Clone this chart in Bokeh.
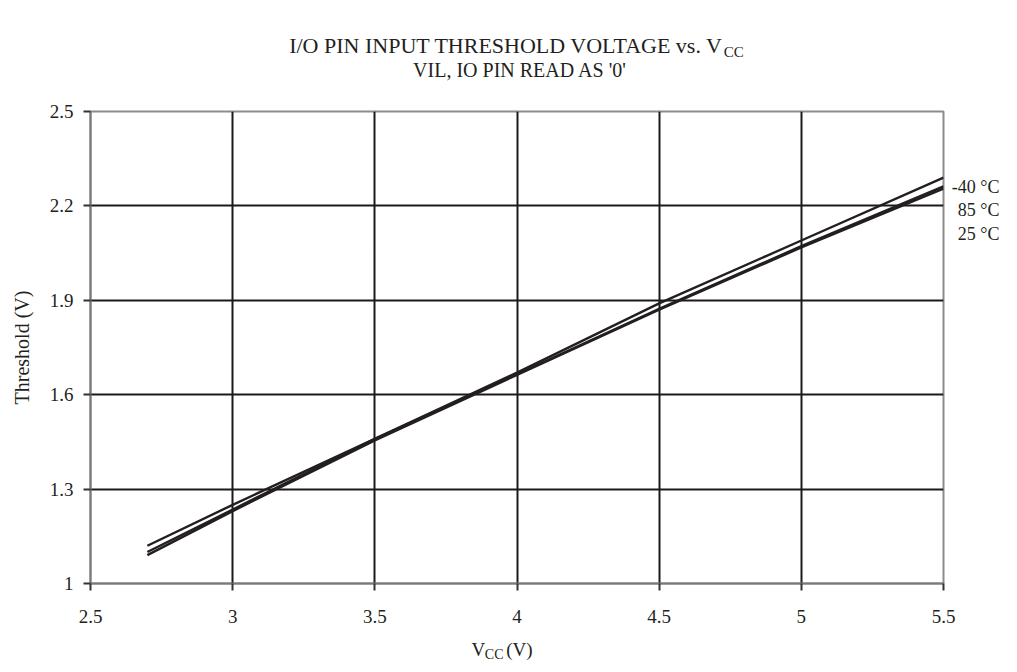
from bokeh.plotting import figure
from bokeh.models import Range1d, FixedTicker, Label
from bokeh.embed import file_html
from bokeh.resources import INLINE

# ---- data ----
vcc = [2.7, 3.0, 3.5, 4.0, 4.5, 5.0, 5.5]
th_m40 = [1.12, 1.25, 1.46, 1.67, 1.89, 2.09, 2.29]
th_85 = [1.10, 1.235, 1.46, 1.665, 1.873, 2.072, 2.262]
th_25 = [1.09, 1.23, 1.455, 1.663, 1.87, 2.068, 2.255]
series_names = ["-40 °C", "85 °C", "25 °C"]
x_ticks = [2.5, 3, 3.5, 4, 4.5, 5, 5.5]
x_tick_labels = ["2.5", "3", "3.5", "4", "4.5", "5", "5.5"]
y_ticks = [1, 1.3, 1.6, 1.9, 2.2, 2.5]
y_tick_labels = ["1", "1.3", "1.6", "1.9", "2.2", "2.5"]

FONT = "Liberation Serif"
INK = "#231f20"

p = figure(width=1000, height=665, output_backend="svg", toolbar_location=None,
           x_range=Range1d(2.5, 5.5), y_range=Range1d(1.0, 2.5),
           min_border_left=90, min_border_right=57, min_border_top=111,
           min_border_bottom=82)
p.background_fill_color = "white"
p.border_fill_color = "white"
p.outline_line_color = "#8c8c8c"
p.outline_line_width = 2

for ax in (p.xaxis[0], p.yaxis[0]):
    ax.axis_line_color = "#7a7a7a"
    ax.axis_line_width = 2
    ax.major_tick_line_color = "#333333"
    ax.major_tick_line_width = 2
    ax.major_tick_out = 7
    ax.major_tick_in = 0
    ax.minor_tick_line_color = None
    ax.major_label_text_font = FONT
    ax.major_label_text_font_size = "19px"
    ax.major_label_text_color = INK

p.xaxis.ticker = FixedTicker(ticks=x_ticks)
p.xaxis.major_label_overrides = {t: l for t, l in zip(x_ticks, x_tick_labels)}
p.xaxis.major_label_standoff = 19
p.yaxis.ticker = FixedTicker(ticks=y_ticks)
p.yaxis.major_label_overrides = {t: l for t, l in zip(y_ticks, y_tick_labels)}
p.yaxis.major_label_standoff = 10
p.yaxis.axis_label = "Threshold (V)"
p.yaxis.axis_label_text_font = FONT
p.yaxis.axis_label_text_font_size = "20px"
p.yaxis.axis_label_text_font_style = "normal"
p.yaxis.axis_label_text_color = INK
p.yaxis.axis_label_standoff = 14

p.xgrid.ticker = FixedTicker(ticks=x_ticks[1:-1])
p.ygrid.ticker = FixedTicker(ticks=y_ticks[1:-1])
for g in (p.xgrid[0], p.ygrid[0]):
    g.grid_line_color = "#1a1a1a"
    g.grid_line_width = 2

for ys in (th_m40, th_85, th_25):
    p.line(vcc, ys, line_color=INK, line_width=2.4)

def lab(x, y, text, size, align="left", place="above", **kw):
    p.add_layout(Label(x=x, y=y, text=text, text_align=align,
                       text_baseline="middle", text_font=FONT,
                       text_font_size=size, text_color=INK, **kw), place)

# series labels (one multi-line label, right side)
lab(5.697, 2.1854, "\n".join(series_names), "18px", align="right",
    place="right", text_line_height=1.154)

# title with subscript
lab(4.7263, 2.7097, "I/O PIN INPUT THRESHOLD VOLTAGE vs. V", "22px", align="right")
lab(4.7270, 2.6890, "CC", "15px")
lab(4.0106, 2.6303, "VIL, IO PIN READ AS '0'", "20px", align="center")

# x axis label with subscript
lab(3.840, 0.7903, "V", "19px", place="below")
lab(3.8870, 0.7744, "CC", "14px")
lab(3.9620, 0.7903, "(V)", "19px")

open("out.html", "w").write(file_html(p, INLINE))
